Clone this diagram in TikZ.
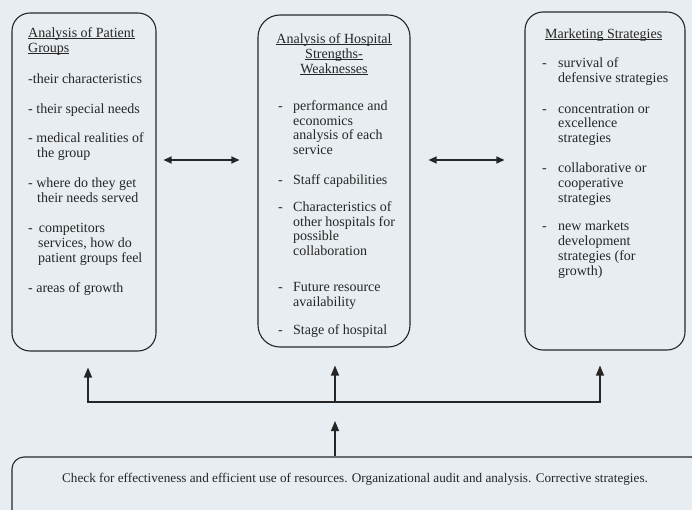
\documentclass[tikz,border=0pt]{standalone}
\usepackage{fontspec}
\setmainfont{Liberation Serif}
\usetikzlibrary{arrows.meta,positioning}
\definecolor{paper}{RGB}{231,237,241}
\definecolor{ink}{RGB}{38,38,38}
\newcommand{\uln}[1]{\underline{\smash{#1}\vphantom{x}}}
\tikzset{
  panel/.style={draw=ink, line width=1.1pt, rounded corners=18pt},
  txt/.style={inner sep=0pt, align=left, text=ink, font=\fontsize{14}{15}\selectfont},
  flow/.style={draw=ink, line width=1.2pt},
  up/.style={flow, -{Triangle[length=10pt,width=8pt]}},
  twoway/.style={flow, {Triangle[length=8pt,width=7pt]}-{Triangle[length=8pt,width=7pt]}}
}
\begin{document}
\begin{tikzpicture}[x=1pt,y=-1pt]
\useasboundingbox (0,0) rectangle (692,510);
\fill[paper] (0,0) rectangle (692,510);
\clip (0,0) rectangle (692,510);
%% the three panels
\node[panel, minimum width=144pt, minimum height=338pt] (patients) at (84,182) {};
\node[panel, rounded corners=22pt, minimum width=152pt, minimum height=332pt] (hospital) at (334,181) {};
\node[panel, minimum width=160pt, minimum height=338pt] (strategies) at (605,181) {};
\node[panel, rounded corners=12pt, minimum width=708pt, minimum height=103pt] (audit) at (366,508.5) {};
%% patient groups
\node[txt, anchor=north west] (patientstxt) at (28,30.5) {\uln{Analysis of Patient}\\
\uln{Groups}\\[16pt]
-their characteristics\\[15pt]
- their special needs\\[14pt]
- medical realities of\\
\hspace*{9pt}the group\\[15pt]
- where do they get\\
\hspace*{9pt}their needs served\\[15pt]
-\hspace*{6pt}competitors\\
\hspace*{10pt}services, how do\\
\hspace*{10pt}patient groups feel\\[15pt]
- areas of growth};
%% hospital
\node[txt, align=center, anchor=north] (hospitalhead) at (334,36.5) {\uln{Analysis of Hospital}\\
\uln{Strengths-}\\
\uln{Weaknesses}};
\node[txt, font=\fontsize{14}{14.6}\selectfont, anchor=north west] (hospitaltxt) at (278,100.5) {\makebox[15pt][l]{-}performance and\\
\hspace*{15pt}economics\\
\hspace*{15pt}analysis of each\\
\hspace*{15pt}service\\[15.6pt]
\makebox[15pt][l]{-}Staff capabilities\\[12.4pt]
\makebox[15pt][l]{-}Characteristics of\\
\hspace*{15pt}other hospitals for\\
\hspace*{15pt}possible\\
\hspace*{15pt}collaboration\\[21.6pt]
\makebox[15pt][l]{-}Future resource\\
\hspace*{15pt}availability\\[13.8pt]
\makebox[15pt][l]{-}Stage of hospital};
%% strategies
\node[txt, anchor=north west] (strategieshead) at (545,31.5) {\uln{Marketing Strategies}};
\node[txt, font=\fontsize{14}{14.8}\selectfont, anchor=north west] (strategiestxt) at (542,57.5) {\makebox[16pt][l]{-}survival of\\
\hspace*{16pt}defensive strategies\\[16pt]
\makebox[16pt][l]{-}concentration or\\
\hspace*{16pt}excellence\\
\hspace*{16pt}strategies\\[15pt]
\makebox[16pt][l]{-}collaborative or\\
\hspace*{16pt}cooperative\\
\hspace*{16pt}strategies\\[14pt]
\makebox[16pt][l]{-}new markets\\
\hspace*{16pt}development\\
\hspace*{16pt}strategies (for\\
\hspace*{16pt}growth)};
%% audit
\node[inner sep=0pt, text=ink, font=\fontsize{13.2}{15}\selectfont, anchor=base] (audittxt) at (355,482) {Check for effectiveness and efficient use of resources. Organizational audit and analysis. Corrective strategies.};
%% connectors
\draw[twoway, shorten <=7pt, shorten >=18pt] ([yshift=22pt]patients.east) -- ([yshift=22pt]patients.east -| hospital.west);
\draw[twoway, shorten <=18pt, shorten >=20pt] ([yshift=22pt]patients.east -| hospital.east) -- ([yshift=22pt]patients.east -| strategies.west);
\coordinate (railL) at (88,402);
\coordinate (railM) at (335,402);
\coordinate (railR) at (600,402);
\draw[up, shorten >=16pt] (railM) -| (railL |- patients.south);
\draw[up, shorten >=15pt] (railM) -| (railR |- strategies.south);
\draw[up, shorten >=18pt] (railM) -- (railM |- hospital.south);
\draw[up, shorten >=19pt] (audit.north -| railM) -- (railM);
\end{tikzpicture}
\end{document}
